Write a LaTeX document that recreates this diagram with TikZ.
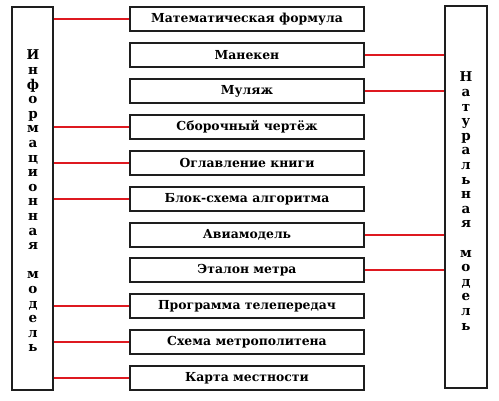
\documentclass[tikz,border=0pt]{standalone}
\usepackage{fontspec}
\setmainfont{DejaVu Serif}
\definecolor{linkred}{RGB}{222,25,32}
\definecolor{boxline}{RGB}{30,30,30}
\begin{document}
\begin{tikzpicture}[x=1pt,y=-1pt,
  mbox/.style={draw=boxline, line width=1.3pt, minimum width=234pt, minimum height=24pt, inner sep=0pt,
    font=\fontsize{12.4}{14}\selectfont\bfseries},
  tallbox/.style={draw=boxline, line width=1.3pt, inner sep=0pt},
  vtext/.style={align=center, font=\fontsize{13.5}{14.6}\selectfont\bfseries, inner sep=0pt},
  conn/.style={draw=linkred, line width=2pt}]
\useasboundingbox (0,0) rectangle (499,401);
\fill[white] (0,0) rectangle (499,401);
\node[tallbox, minimum width=41pt, minimum height=383pt] (L) at (32.5,198.5) {};
\node[tallbox, minimum width=42pt, minimum height=382pt] (R) at (466,197) {};
\node[vtext] (Lt) at (33,201) {И\\н\\ф\\о\\р\\м\\а\\ц\\и\\о\\н\\н\\а\\я\\[14.6pt]м\\о\\д\\е\\л\\ь};
\node[vtext] (Rt) at (466,201) {Н\\а\\т\\у\\р\\а\\л\\ь\\н\\а\\я\\[14.6pt]м\\о\\д\\е\\л\\ь};
\node[mbox] (r1) at (247,19) {Математическая формула};
\node[mbox] (r2) at (247,55) {Манекен};
\node[mbox] (r3) at (247,91) {Муляж};
\node[mbox] (r4) at (247,127) {Сборочный чертёж};
\node[mbox] (r5) at (247,163) {Оглавление книги};
\node[mbox] (r6) at (247,199) {Блок-схема алгоритма};
\node[mbox] (r7) at (247,235) {Авиамодель};
\node[mbox] (r8) at (247,270) {Эталон метра};
\node[mbox] (r9) at (247,306) {Программа телепередач};
\node[mbox] (r10) at (247,342) {Схема метрополитена};
\node[mbox] (r11) at (247,378) {Карта местности};
\foreach \r in {r1,r4,r5,r6,r9,r10,r11}
  \draw[conn] (L.east |- \r.west) -- (\r.west);
\foreach \r in {r2,r3,r7,r8}
  \draw[conn] (\r.east) -- (R.west |- \r.east);
\end{tikzpicture}
\end{document}
